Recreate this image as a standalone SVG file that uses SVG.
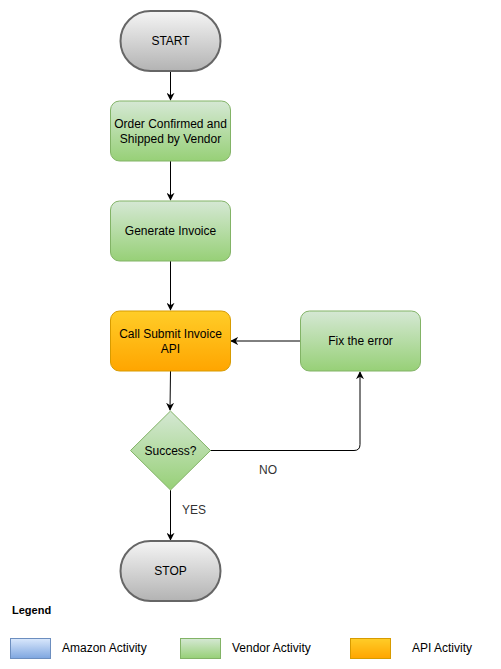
<svg xmlns="http://www.w3.org/2000/svg" width="501" height="669" viewBox="0 0 501 669">
  <defs>
    <linearGradient id="gGray" x1="0" y1="0" x2="0" y2="1">
      <stop offset="0" stop-color="#f5f5f5"/>
      <stop offset="1" stop-color="#b3b3b3"/>
    </linearGradient>
    <linearGradient id="gGreen" x1="0" y1="0" x2="0" y2="1">
      <stop offset="0" stop-color="#d5e8d4"/>
      <stop offset="1" stop-color="#97d077"/>
    </linearGradient>
    <linearGradient id="gOrange" x1="0" y1="0" x2="0" y2="1">
      <stop offset="0" stop-color="#ffcd28"/>
      <stop offset="1" stop-color="#ffa500"/>
    </linearGradient>
    <linearGradient id="gBlue" x1="0" y1="0" x2="0" y2="1">
      <stop offset="0" stop-color="#dae8fc"/>
      <stop offset="1" stop-color="#7ea6e0"/>
    </linearGradient>
    <marker id="arrow" viewBox="0 0 10 10" refX="9" refY="5" markerWidth="8" markerHeight="8" markerUnits="userSpaceOnUse" orient="auto">
      <path d="M0,0 L10,5 L0,10 L3,5 Z" fill="#000"/>
    </marker>
  </defs>
  <style>
    text { font-family: "Liberation Sans", Arial, sans-serif; font-size: 12px; fill: #000; }
    .mid { text-anchor: middle; dominant-baseline: central; }
    .term { fill: url(#gGray); stroke: #666666; stroke-width: 2; }
    .vendor { fill: url(#gGreen); stroke: #82b366; stroke-width: 1; }
    .api { fill: url(#gOrange); stroke: #d79b00; stroke-width: 1; }
    .amazon { fill: url(#gBlue); stroke: #6c8ebf; stroke-width: 1; }
    .edge { fill: none; stroke: #000; stroke-width: 1; marker-end: url(#arrow); }
    .lbl { fill: #333; }
  </style>
  <rect width="501" height="669" fill="#ffffff"/>

  <!-- connectors -->
  <g id="edges">
    <path class="edge" d="M170.5,71 L170.5,100"/>
    <path class="edge" d="M170.5,161 L170.5,200"/>
    <path class="edge" d="M170.5,261 L170.5,310"/>
    <path class="edge" d="M170.5,371 L170,410"/>
    <path class="edge" d="M300,341 L231,341"/>
    <path class="edge" d="M210,450.5 L354,450.5 Q360,450.5 360,444.5 L360,372"/>
    <path class="edge" d="M170.5,490 L170.5,540"/>
    <text class="lbl" x="268" y="474" text-anchor="middle">NO</text>
    <text class="lbl" x="194" y="514" text-anchor="middle">YES</text>
  </g>

  <g id="start">
    <rect class="term" x="120.5" y="11" width="100" height="60" rx="30" ry="30"/>
    <text class="mid" x="170.5" y="41">START</text>
  </g>

  <g id="order">
    <rect class="vendor" x="110.5" y="101" width="120" height="60" rx="9" ry="9"/>
    <text class="mid" x="170.5" y="124">Order Confirmed and</text>
    <text class="mid" x="170.5" y="139">Shipped by Vendor</text>
  </g>

  <g id="invoice">
    <rect class="vendor" x="110.5" y="201" width="120" height="60" rx="9" ry="9"/>
    <text class="mid" x="170.5" y="231">Generate Invoice</text>
  </g>

  <g id="submit">
    <rect class="api" x="110.5" y="311" width="120" height="60" rx="9" ry="9"/>
    <text class="mid" x="170.5" y="334">Call Submit Invoice</text>
    <text class="mid" x="170.5" y="349">API</text>
  </g>

  <g id="fix">
    <rect class="vendor" x="300.5" y="311" width="120" height="60" rx="9" ry="9"/>
    <text class="mid" x="360.5" y="341">Fix the error</text>
  </g>

  <g id="success">
    <polygon class="vendor" points="170.5,411 210.5,450.5 170.5,490 130.5,450.5"/>
    <text class="mid" x="170.5" y="451">Success?</text>
  </g>

  <g id="stop">
    <rect class="term" x="120.5" y="541" width="100" height="60" rx="30" ry="30"/>
    <text class="mid" x="170.5" y="571">STOP</text>
  </g>

  <g id="legend">
    <text x="12" y="614" style="font-weight:bold;font-size:11px">Legend</text>
    <rect class="amazon" x="10.5" y="638.5" width="40" height="20"/>
    <text x="62" y="652">Amazon Activity</text>
    <rect class="vendor" x="180.5" y="638.5" width="40" height="20"/>
    <text x="232" y="652">Vendor Activity</text>
    <rect class="api" x="350.5" y="638.5" width="40" height="20"/>
    <text x="412" y="652">API Activity</text>
  </g>
</svg>
